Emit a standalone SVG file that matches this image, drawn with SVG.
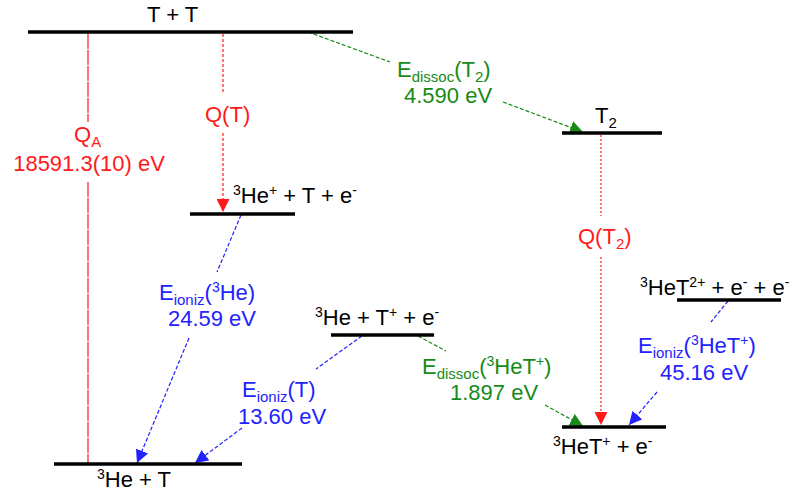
<svg xmlns="http://www.w3.org/2000/svg" width="810" height="498" viewBox="0 0 810 498">
<style>
text{font-family:"Liberation Sans",Arial,sans-serif;font-size:22px}
.k{fill:#000}
.r{fill:#ff1a1a}
.g{fill:#178a17}
.b{fill:#2222ff}
.lvl{stroke:#000;stroke-width:3.5;fill:none}
.cr{stroke:#ff1a1a;stroke-width:1.2;fill:none}
.cg{stroke:#178a17;stroke-width:1.2;fill:none;stroke-dasharray:4 2}
.cb{stroke:#2222ff;stroke-width:1.2;fill:none;stroke-dasharray:4 2}
.sub{font-size:15px}
.sup{font-size:14px}
</style>
<defs>
<marker id="ar" markerUnits="userSpaceOnUse" markerWidth="14" markerHeight="13" refX="13" refY="6.5" orient="auto"><path d="M0,0 L13,6.5 L0,13 z" fill="#ff1a1a"/></marker>
<marker id="ag" markerUnits="userSpaceOnUse" markerWidth="14" markerHeight="13" refX="13" refY="6.5" orient="auto"><path d="M0,0 L13,6.5 L0,13 z" fill="#178a17"/></marker>
<marker id="ab" markerUnits="userSpaceOnUse" markerWidth="14" markerHeight="13" refX="13" refY="6.5" orient="auto"><path d="M0,0 L13,6.5 L0,13 z" fill="#2222ff"/></marker>
</defs>

<g id="connectors">
<path class="cr" style="stroke-dasharray:15 1" d="M88,34 V122 M88,182 V463"/>
<path class="cr" style="stroke-dasharray:3 2" d="M223,34 V92"/>
<path class="cr" style="stroke-dasharray:3 2" d="M223,133 V212" marker-end="url(#ar)"/>
<path class="cg" d="M308,32 L390,62"/>
<path class="cg" d="M503,102 L583,132" marker-end="url(#ag)"/>
<path class="cr" style="stroke-dasharray:2 2" d="M601,135 V216"/>
<path class="cr" style="stroke-dasharray:2 2" d="M601,257 V425" marker-end="url(#ar)"/>
<path class="cb" d="M241,215 L217,272"/>
<path class="cb" d="M189,338 L137,463" marker-end="url(#ab)"/>
<path class="cb" d="M362,336 L316,369"/>
<path class="cb" d="M242,428 L195,463" marker-end="url(#ab)"/>
<path class="cg" d="M418,336 L446,351"/>
<path class="cg" d="M545,405 L583,426" marker-end="url(#ag)"/>
<path class="cb" d="M728,301 L711,322"/>
<path class="cb" d="M657,392 L629,425" marker-end="url(#ab)"/>
</g>

<g id="TT">
<line class="lvl" x1="28" y1="32" x2="353" y2="32"/>
<text class="k" x="147" y="22">T + T</text>
</g>
<g id="T2">
<line class="lvl" x1="562" y1="133" x2="662" y2="133"/>
<text class="k" x="595" y="123">T<tspan class="sub" dy="5">2</tspan></text>
</g>
<g id="HePlus">
<line class="lvl" x1="190" y1="214" x2="295" y2="214"/>
<text class="k" x="233" y="203"><tspan class="sup" dy="-8">3</tspan><tspan dy="8">He</tspan><tspan class="sup" dy="-8">+</tspan><tspan dy="8"> + T + e</tspan><tspan class="sup" dy="-8">-</tspan></text>
</g>
<g id="HeTPlus">
<line class="lvl" x1="331" y1="335" x2="434" y2="335"/>
<text class="k" x="315" y="325"><tspan class="sup" dy="-8">3</tspan><tspan dy="8">He + T</tspan><tspan class="sup" dy="-8">+</tspan><tspan dy="8"> + e</tspan><tspan class="sup" dy="-8">-</tspan></text>
</g>
<g id="HeT2Plus">
<line class="lvl" x1="677" y1="300" x2="781" y2="300"/>
<text class="k" x="640" y="295"><tspan class="sup" dy="-8">3</tspan><tspan dy="8">HeT</tspan><tspan class="sup" dy="-8">2+</tspan><tspan dy="8"> + e</tspan><tspan class="sup" dy="-8">-</tspan><tspan dy="8"> + e</tspan><tspan class="sup" dy="-8">-</tspan></text>
</g>
<g id="HeTPlusE">
<line class="lvl" x1="562" y1="427" x2="666" y2="427"/>
<text class="k" x="553" y="454"><tspan class="sup" dy="-8">3</tspan><tspan dy="8">HeT</tspan><tspan class="sup" dy="-8">+</tspan><tspan dy="8"> + e</tspan><tspan class="sup" dy="-8">-</tspan></text>
</g>
<g id="HeT">
<line class="lvl" x1="54" y1="464" x2="242" y2="464"/>
<text class="k" x="97" y="487"><tspan class="sup" dy="-8">3</tspan><tspan dy="8">He + T</tspan></text>
</g>

<g id="labels">
<text class="r" x="74" y="142">Q<tspan class="sub" dy="5">A</tspan></text>
<text class="r" x="89" y="171" text-anchor="middle">18591.3(10) eV</text>
<text class="r" x="205" y="122">Q(T)</text>
<text class="g" x="397" y="77">E<tspan class="sub" dy="5">dissoc</tspan><tspan dy="-5">(T</tspan><tspan class="sub" dy="5">2</tspan><tspan dy="-5">)</tspan></text>
<text class="g" x="404" y="103">4.590 eV</text>
<text class="r" x="578" y="244">Q(T<tspan class="sub" dy="5">2</tspan><tspan dy="-5">)</tspan></text>
<text class="b" x="159" y="300">E<tspan class="sub" dy="5">ioniz</tspan><tspan dy="-5">(</tspan><tspan class="sup" dy="-8">3</tspan><tspan dy="8">He)</tspan></text>
<text class="b" x="212" y="326" text-anchor="middle">24.59 eV</text>
<text class="b" x="242" y="397">E<tspan class="sub" dy="5">ioniz</tspan><tspan dy="-5">(T)</tspan></text>
<text class="b" x="238" y="424">13.60 eV</text>
<text class="g" x="422" y="374">E<tspan class="sub" dy="5">dissoc</tspan><tspan dy="-5">(</tspan><tspan class="sup" dy="-8">3</tspan><tspan dy="8">HeT</tspan><tspan class="sup" dy="-8">+</tspan><tspan dy="8">)</tspan></text>
<text class="g" x="450" y="400">1.897 eV</text>
<text class="b" x="638" y="353">E<tspan class="sub" dy="5">ioniz</tspan><tspan dy="-5">(</tspan><tspan class="sup" dy="-8">3</tspan><tspan dy="8">HeT</tspan><tspan class="sup" dy="-8">+</tspan><tspan dy="8">)</tspan></text>
<text class="b" x="660" y="380">45.16 eV</text>
</g>
</svg>
